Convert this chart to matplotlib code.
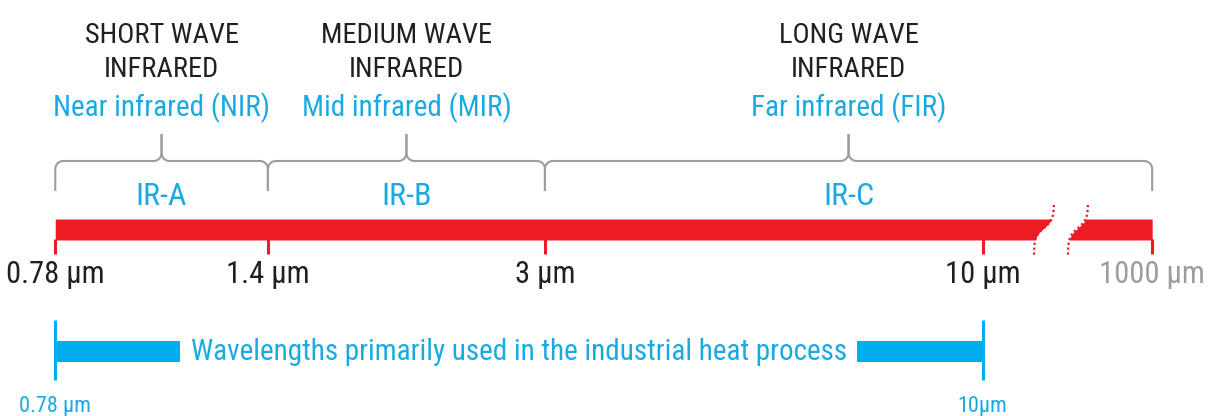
import numpy as np
import matplotlib
matplotlib.use("Agg")
import matplotlib.pyplot as plt
from matplotlib import font_manager

# data
wavelengths = [0.78, 1.4, 3, 10, 1000]
tick_labels = ["0.78 µm", "1.4 µm", "3 µm", "10 µm", "1000 µm"]
band_edges = [0.78, 1.4, 3, 1000]
band_names = ["IR-A", "IR-B", "IR-C"]
wave_names = ["SHORT WAVE\nINFRARED", "MEDIUM WAVE\nINFRARED", "LONG WAVE\nINFRARED"]
common_names = ["Near infrared (NIR)", "Mid infrared (MIR)", "Far infrared (FIR)"]
heat_range = [0.78, 10]
heat_labels = ["0.78 µm", "10µm"]
heat_text = "Wavelengths primarily used in the industrial heat process"

RED = "#ed1c24"
BLUE = "#00aeef"
CYAN = "#1aa9e1"
DARK = "#231f20"
GREY = "#9d9d9d"

# pick a narrow font if there is one
names = {f.name for f in font_manager.fontManager.ttflist}
FONT = "DejaVu Sans"
for cand in ["Roboto Condensed", "Liberation Sans Narrow", "Open Sans Condensed",
             "Noto Sans Condensed", "DejaVu Sans Condensed"]:
    if cand in names:
        FONT = cand
        break
plt.rcParams["font.family"] = [FONT, "DejaVu Sans"]

# log scale, squeezed above 10 um (axis break)
SQ = 0.1013
def fwd(w):
    w = np.asarray(w, dtype=float)
    lw = np.log10(np.clip(w, 1e-9, None))
    return np.where(lw <= 1, lw, 1 + (lw - 1) * SQ)
def inv(v):
    v = np.asarray(v, dtype=float)
    return np.where(v <= 1, 10 ** v, 10 ** (1 + (v - 1) / SQ))

fig = plt.figure(figsize=(12.09, 4.16), dpi=100)
ax = fig.add_axes([0, 0, 1, 1])
ax.set_xscale("function", functions=(fwd, inv))
ax.set_xlim(0.670, 4680)
ax.set_ylim(416, 0)
ax.axis("off")

lo = float(fwd(0.670))
PX = 1209 / (float(fwd(4680)) - lo)
def px(w):
    return (fwd(w) - lo) * PX
def wv(p):
    return inv(lo + np.asarray(p, dtype=float) / PX)

# red bar with break
y = np.linspace(219, 240, 60)
def s_curve(xc, yy):
    return xc + 10 * np.tanh((228 - yy) / 9)
b1, b2 = 1044, 1078
ax.fill_betweenx(y, wavelengths[0], wv(s_curve(b1, y)), color=RED, lw=0)
ax.fill_betweenx(y, wv(s_curve(b2, y)), wavelengths[-1], color=RED, lw=0)
yc = np.linspace(205, 256, 80)
for bc in (b1, b2):
    ax.plot(wv(s_curve(bc, yc)), yc, color=RED, lw=1.6, ls=(0, (1, 1.2)))

for w, lab in zip(wavelengths, tick_labels):
    ax.plot([w, w], [239, 254], color=RED, lw=2.2, solid_capstyle="butt")
    ax.text(w, 283, lab, ha="center", va="baseline", fontsize=22,
            color=GREY if w == 1000 else DARK)

# brackets
def bracket(w0, w1, yb=161, r=8, top=135, bot=190):
    x0, x1 = px(w0), px(w1)
    xc = (x0 + x1) / 2
    t = np.linspace(0, np.pi / 2, 15)
    xs = [np.array([x0]), x0 + r - r * np.cos(t),
          xc - r + r * np.sin(t), np.array([xc]),
          (xc + r - r * np.sin(t))[::-1], (x1 - r + r * np.cos(t))[::-1], np.array([x1])]
    ys = [np.array([bot]), yb + r - r * np.sin(t),
          yb - r + r * np.cos(t), np.array([top]),
          (yb - r + r * np.cos(t))[::-1], (yb + r - r * np.sin(t))[::-1], np.array([bot])]
    # stem goes up and back down, so split in two paths
    ax.plot(wv(np.concatenate(xs[:4])), np.concatenate(ys[:4]), color=GREY, lw=1.5)
    ax.plot(wv(np.concatenate(xs[3:])), np.concatenate(ys[3:]), color=GREY, lw=1.5)
    return wv(xc)

for i in range(3):
    wc = bracket(band_edges[i], band_edges[i + 1])
    ax.text(wc, 205, band_names[i], ha="center", va="baseline", fontsize=23, color=CYAN)
    ax.text(wc, 116, common_names[i], ha="center", va="baseline", fontsize=21, color=CYAN)
    for j, line in enumerate(wave_names[i].split("\n")):
        ax.text(wc, 43 + 34 * j, line, ha="center", va="baseline", fontsize=20.5,
                color=DARK)

# industrial heat range
mid = wv((px(heat_range[0]) + px(heat_range[1])) / 2)
t = ax.text(mid, 360, heat_text, ha="center", va="baseline", fontsize=21, color=CYAN)
fig.canvas.draw()
bb = t.get_window_extent()
g0, g1 = bb.x0 - 11, bb.x1 + 10
ax.fill_betweenx([341, 362], heat_range[0], wv(g0), color=BLUE, lw=0)
ax.fill_betweenx([341, 362], wv(g1), heat_range[1], color=BLUE, lw=0)
for w, lab in zip(heat_range, heat_labels):
    ax.plot([w, w], [320, 380], color=BLUE, lw=2.2, solid_capstyle="butt")
    ax.text(w, 412, lab, ha="center", va="baseline", fontsize=16, color=CYAN)

fig.savefig("out.png", dpi=100)
